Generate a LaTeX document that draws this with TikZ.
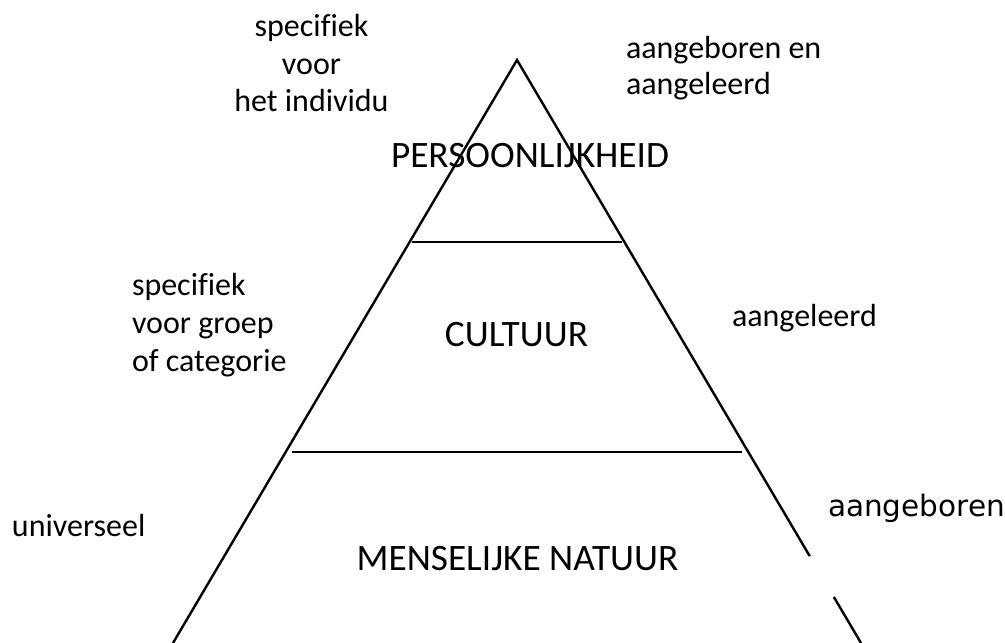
\documentclass[tikz,border=0pt]{standalone}
\usepackage{fontspec}
\setmainfont{Carlito}[Ligatures=NoCommon]
\newfontfamily\dejavusans{DejaVu Sans}
\usetikzlibrary{calc}

\begin{document}
\begin{tikzpicture}[
x=1pt,
y=-1pt,
every node/.style={inner sep=0pt,outer sep=0pt},
note/.style={font=\fontsize{32}{37.5}\selectfont,anchor=base west,align=left},
layer/.style={font=\fontsize{37.3}{42}\selectfont,anchor=base},
side/.style={line width=2.4pt,line join=miter},
divider/.style={line width=1.6pt}
]
\useasboundingbox (0,0) rectangle (1005,643);

% triangle
\coordinate (apex) at (517,60);
\coordinate (leftfoot) at (173,643);
\coordinate (rightfoot) at (861,643);
\draw[side] (leftfoot) -- (apex) -- ($(apex)!0.851!(rightfoot)$);
\draw[side] ($(apex)!0.921!(rightfoot)$) -- (rightfoot);

% layers
\coordinate (topleft) at (412,242);
\coordinate (topright) at (622,242);
\coordinate (midleft) at (292,452);
\coordinate (midright) at (742,452);
\draw[divider] (topleft) -- (topright);
\draw[divider] (midleft) -- (midright);

\node[layer] (persoonlijkheid) at (530,167) {PERSOONLIJKHEID};
\node[layer] (cultuur) at (516.5,346) {CULTUUR};
\node[layer] (natuur) at (517.5,570) {MENSELIJKE NATUUR};

% left notes (base = last line)
\node[note,anchor=base,align=center] (individu) at (311.5,111.7) {specifiek\\voor\\het individu};
\node[note,font=\fontsize{32}{38}\selectfont] (groep) at (132,371) {specifiek\\voor groep\\of categorie};
\node[note] (universeel) at (12,536) {universeel};

% right notes
\node[note,font=\fontsize{32}{35.7}\selectfont] (aangeborenen) at (626,94) {aangeboren en\\aangeleerd};
\node[note] (aangeleerd) at (732,326) {aangeleerd};
\node[note,font=\dejavusans\fontsize{29.5}{34}\selectfont] (aangeboren) at (828,516) {aangeboren};
\end{tikzpicture}
\end{document}
